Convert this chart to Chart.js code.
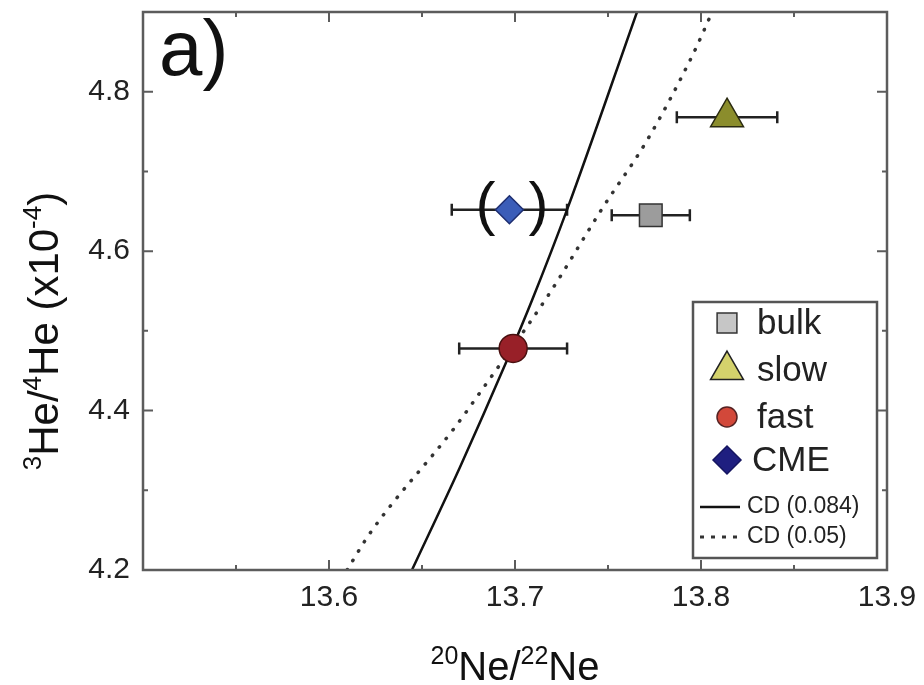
<!DOCTYPE html>
<html>
<head>
<meta charset="utf-8">
<script src="https://cdn.jsdelivr.net/npm/chart.js@4.4.1/dist/chart.umd.min.js"></script>
<style>
  html, body { margin: 0; padding: 0; background: #fff; }
</style>
</head>
<body>
<canvas id="chart" width="924" height="685"></canvas>
<script>
// measured points (20Ne/22Ne vs 3He/4He x1e-4)
const names = ['bulk', 'slow', 'fast', 'CME'];
const neRatio = [13.773, 13.814, 13.699, 13.697];
const heRatio = [4.645, 4.768, 4.478, 4.652];
const neErr = [0.021, 0.027, 0.029, 0.031];

// Coulomb-drag model curves
const cd084X = [13.6446, 13.6704, 13.6957, 13.7091, 13.728, 13.7656];
const cd084Y = [4.2, 4.329, 4.463, 4.538, 4.652, 4.9];
const cd05X = [13.6097, 13.622, 13.6677, 13.681, 13.7177, 13.7473, 13.771, 13.7957, 13.806];
const cd05Y = [4.2, 4.246, 4.379, 4.422, 4.544, 4.655, 4.739, 4.847, 4.9];

const xTickVals = [13.6, 13.7, 13.8, 13.9];
const yTickVals = [4.2, 4.4, 4.6, 4.8];
const xMinorVals = [13.55, 13.65, 13.75, 13.85];
const yMinorVals = [4.3, 4.5, 4.7];

const FONT = '"Liberation Sans", Arial, sans-serif';

const markers = {
  bulk: { style: 'rect', r: 16, fill: '#9c9c9c', line: '#333', lr: 14, lfill: '#c6c6c6', lline: '#333' },
  slow: { style: 'triangle', r: 19, fill: '#8b8d2c', line: '#2a2a10', lr: 19, lfill: '#d4d26c', lline: '#222' },
  fast: { style: 'circle', r: 14, fill: '#982028', line: '#4a1010', lr: 10, lfill: '#d2483a', lline: '#552222' },
  CME:  { style: 'rectRot', r: 14, fill: '#3b5db8', line: '#1e2e70', lr: 14, lfill: '#1f1f80', lline: '#151560' }
};

const pointSets = names.map((n, i) => ({
  label: n,
  data: [{ x: neRatio[i], y: heRatio[i] }],
  pointStyle: markers[n].style,
  pointRadius: markers[n].r,
  pointHoverRadius: markers[n].r,
  pointBackgroundColor: markers[n].fill,
  pointBorderColor: markers[n].line,
  pointBorderWidth: 1.5,
  showLine: false
}));

const lineSets = [
  {
    label: 'CD (0.084)',
    data: cd084X.map((x, i) => ({ x: x, y: cd084Y[i] })),
    showLine: true, pointRadius: 0, borderColor: '#111', borderWidth: 2.5,
    cubicInterpolationMode: 'monotone'
  },
  {
    label: 'CD (0.05)',
    data: cd05X.map((x, i) => ({ x: x, y: cd05Y[i] })),
    showLine: true, pointRadius: 0, borderColor: '#333', borderWidth: 3.5,
    borderDash: [0.5, 10.5], borderCapStyle: 'round',
    cubicInterpolationMode: 'monotone'
  }
];

function drawRich(ctx, parts, x, y, size) {
  const main = size + 'px ' + FONT;
  const sup = Math.round(size * 0.62) + 'px ' + FONT;
  let w = 0;
  parts.forEach(p => { ctx.font = p[1] ? sup : main; w += ctx.measureText(p[0]).width; });
  let cx = x - w / 2;
  ctx.textAlign = 'left';
  ctx.textBaseline = 'alphabetic';
  parts.forEach(p => {
    ctx.font = p[1] ? sup : main;
    ctx.fillText(p[0], cx, p[1] ? y - size * 0.4 : y);
    cx += ctx.measureText(p[0]).width;
  });
}

const errorBars = {
  id: 'errorBars',
  beforeDatasetsDraw(chart) {
    const ctx = chart.ctx, xs = chart.scales.x, ys = chart.scales.y;
    ctx.save();
    ctx.strokeStyle = '#222';
    ctx.lineWidth = 2.5;
    names.forEach((n, i) => {
      const x0 = xs.getPixelForValue(neRatio[i] - neErr[i]);
      const x1 = xs.getPixelForValue(neRatio[i] + neErr[i]);
      const y = ys.getPixelForValue(heRatio[i]);
      ctx.beginPath();
      ctx.moveTo(x0, y); ctx.lineTo(x1, y);
      ctx.moveTo(x0, y - 6); ctx.lineTo(x0, y + 6);
      ctx.moveTo(x1, y - 6); ctx.lineTo(x1, y + 6);
      ctx.stroke();
    });
    ctx.restore();
  },
  afterDatasetsDraw(chart) {
    // brackets around the CME point
    const ctx = chart.ctx, xs = chart.scales.x, ys = chart.scales.y;
    const i = names.indexOf('CME');
    const px = xs.getPixelForValue(neRatio[i]);
    const py = ys.getPixelForValue(heRatio[i]);
    ctx.save();
    ctx.fillStyle = '#111';
    ctx.font = '60px ' + FONT;
    ctx.textAlign = 'center';
    ctx.textBaseline = 'middle';
    ctx.fillText('(', px - 24, py - 2);
    ctx.fillText(')', px + 29, py - 2);
    ctx.restore();
  }
};

const frame = {
  id: 'frame',
  afterDraw(chart) {
    const ctx = chart.ctx, a = chart.chartArea;
    const xs = chart.scales.x, ys = chart.scales.y;
    ctx.save();
    ctx.strokeStyle = '#5c5c5c';
    ctx.lineWidth = 2.5;
    ctx.strokeRect(a.left, a.top, a.right - a.left, a.bottom - a.top);

    // inward ticks
    ctx.lineWidth = 2;
    ctx.beginPath();
    const tx = (v, len) => {
      const p = xs.getPixelForValue(v);
      ctx.moveTo(p, a.bottom); ctx.lineTo(p, a.bottom - len);
      ctx.moveTo(p, a.top); ctx.lineTo(p, a.top + len);
    };
    const ty = (v, len) => {
      const p = ys.getPixelForValue(v);
      ctx.moveTo(a.left, p); ctx.lineTo(a.left + len, p);
      ctx.moveTo(a.right, p); ctx.lineTo(a.right - len, p);
    };
    xTickVals.forEach(v => tx(v, 10));
    xMinorVals.forEach(v => tx(v, 5));
    yTickVals.forEach(v => ty(v, 10));
    yMinorVals.forEach(v => ty(v, 5));
    ctx.stroke();

    // panel tag
    ctx.fillStyle = '#111';
    ctx.font = '78px ' + FONT;
    ctx.textAlign = 'left';
    ctx.textBaseline = 'alphabetic';
    ctx.fillText('a)', 159, 75);

    // axis titles
    ctx.fillStyle = '#111';
    drawRich(ctx, [['20', true], ['Ne/', false], ['22', true], ['Ne', false]], (a.left + a.right) / 2, 680, 40);
    ctx.save();
    ctx.translate(58, 331);
    ctx.rotate(-Math.PI / 2);
    drawRich(ctx, [['3', true], ['He/', false], ['4', true], ['He (x10', false], ['-4', true], [')', false]], 0, 0, 42);
    ctx.restore();

    // legend
    const bx = a.right - 194, by = a.bottom - 268, bw = 184, bh = 256;
    ctx.fillStyle = '#fff';
    ctx.fillRect(bx, by, bw, bh);
    ctx.strokeStyle = '#555';
    ctx.lineWidth = 2.5;
    ctx.strokeRect(bx, by, bw, bh);
    const rows = [21, 68, 115, 158];
    names.forEach((n, i) => {
      const m = markers[n];
      ctx.fillStyle = m.lfill;
      ctx.strokeStyle = m.lline;
      ctx.lineWidth = 1.5;
      Chart.helpers.drawPoint(ctx, { pointStyle: m.style, radius: m.lr, rotation: 0, borderWidth: 1.5 }, bx + 34, by + rows[i]);
      ctx.fillStyle = '#222';
      ctx.font = '35px ' + FONT;
      ctx.textAlign = 'left';
      ctx.textBaseline = 'middle';
      ctx.fillText(n, bx + (n === 'CME' ? 59 : 64), by + rows[i] + 1);
    });
    const lrows = [205, 235];
    lineSets.forEach((s, i) => {
      ctx.strokeStyle = s.borderColor;
      ctx.lineWidth = i === 0 ? 2.5 : 3;
      ctx.setLineDash(i === 0 ? [] : [4, 7]);
      ctx.beginPath();
      ctx.moveTo(bx + 7, by + lrows[i]);
      ctx.lineTo(bx + 47, by + lrows[i]);
      ctx.stroke();
      ctx.setLineDash([]);
      ctx.fillStyle = '#222';
      ctx.font = '23px ' + FONT;
      ctx.textAlign = 'left';
      ctx.textBaseline = 'middle';
      ctx.fillText(s.label, bx + 54, by + lrows[i]);
    });
    ctx.restore();
  }
};

function noEdgePadding(s) {
  s.paddingTop = 0; s.paddingBottom = 0;
  s.paddingLeft = 0; s.paddingRight = 0;
}

const chart = new Chart(document.getElementById('chart').getContext('2d'), {
  type: 'scatter',
  data: { datasets: pointSets.concat(lineSets) },
  options: {
    responsive: false,
    animation: false,
    layout: { autoPadding: false, padding: { top: 12, right: 37, left: 0, bottom: 0 } },
    plugins: { legend: { display: false }, tooltip: { enabled: false } },
    scales: {
      x: {
        type: 'linear', min: 13.5, max: 13.9,
        grid: { display: false, drawTicks: false },
        border: { display: false },
        afterBuildTicks: s => { s.ticks = xTickVals.map(v => ({ value: v })); },
        afterFit: s => { s.height = 115; noEdgePadding(s); },
        ticks: {
          padding: 10, color: '#222', maxRotation: 0,
          font: { family: FONT, size: 30 },
          callback: v => v.toFixed(1)
        }
      },
      y: {
        type: 'linear', min: 4.2, max: 4.9,
        grid: { display: false, drawTicks: false },
        border: { display: false },
        afterBuildTicks: s => { s.ticks = yTickVals.map(v => ({ value: v })); },
        afterFit: s => { s.width = 143; noEdgePadding(s); },
        ticks: {
          padding: 13, color: '#222',
          font: { family: FONT, size: 30 },
          callback: v => v.toFixed(1)
        }
      }
    }
  },
  plugins: [errorBars, frame]
});
</script>
</body>
</html>
